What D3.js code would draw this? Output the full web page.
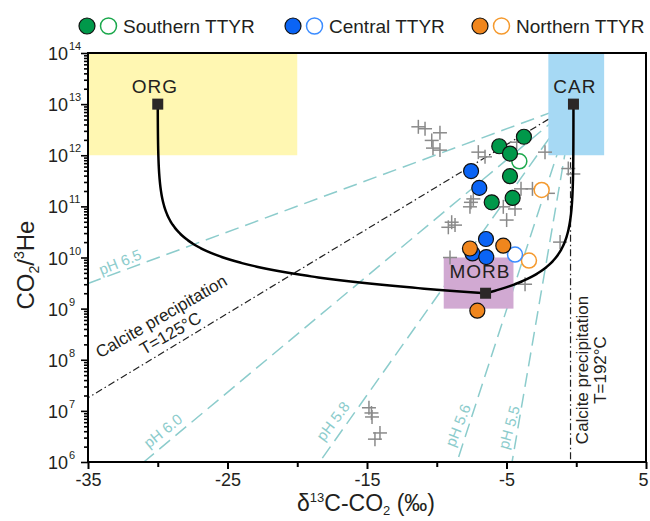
<!DOCTYPE html>
<html><head><meta charset="utf-8">
<script src="https://cdn.jsdelivr.net/npm/d3@7"></script>
<style>
body{margin:0;background:#fff}
svg{display:block}
text{font-family:"Liberation Sans",Arial,Helvetica,sans-serif;fill:#231f20}
</style>
</head><body>
<svg id="chart" width="650" height="521"></svg>
<script>
// ---------------- data ----------------
const xMajorTicks = [-35, -25, -15, -5, 5];
const xMinorTicks = [-30, -20, -10, 0];
const yTickExponents = [6, 7, 8, 9, 10, 11, 12, 13, 14];

const endMemberNames = ["ORG", "CAR", "MORB"];
const endMemberD13C = [-30, -0.2, -6.5];
const endMemberRatio = [1e13, 1e13, 2e9];

const boxNames = ["ORG", "CAR", "MORB"];
const boxD13C = [[-35, -20], [-2, 2], [-9.5, -4.5]];
const boxRatio = [[1e12, 1e14], [1e12, 1e14], [1e9, 1e10]];

const pHLabels = ["pH 6.5", "pH 6.0", "pH 5.8", "pH 5.6", "pH 5.5"];
const pHEndD13C = [-35, -31, -18.4, -8.55, -4.6];
const pHEndRatio = [3.1e9, 1e6, 1e6, 1e6, 1e6];

const calcite125End = [-35, 1.8e7];
const calcite192D13C = -0.41;

const southernFilled = [[-5.52, 1.5e12], [-3.75, 2.3e12], [-4.75, 1.08e12], [-4.75, 3.9e11], [-4.56, 1.46e11], [-6.06, 1.2e11]];
const southernOpen = [[-4.08, 7.6e11]];
const centralFilled = [[-7.54, 4.9e11], [-6.95, 2.3e11], [-6.47, 2.3e10], [-7.44, 1.2e10], [-6.45, 1.02e10]];
const centralOpen = [[-4.39, 1.14e10]];
const northernFilled = [[-7.62, 1.5e10], [-5.23, 1.7e10], [-7.09, 9.1e8]];
const northernOpen = [[-2.48, 2.1e11], [-3.39, 8.7e9]];

const otherSamples = [
  [-11.32, 3.6e12], [-10.84, 3.3e12], [-9.77, 2.75e12], [-10.36, 1.95e12], [-10.27, 1.38e12], [-9.77, 1.26e12],
  [-7.02, 1.15e12], [-6.54, 9.3e11], [-4.27, 1.8e12], [-2.24, 1.15e12], [-0.57, 5.5e11], [-0.21, 4.3e11],
  [-3.96, 2.2e11], [-3.14, 2.2e11], [-2.03, 1.8e11], [-7.38, 1.4e11], [-7.62, 9.8e10], [-7.55, 1.2e11],
  [-5.23, 9.8e10], [-4.39, 8.9e10], [-4.99, 5.4e10], [-8.93, 4.9e10], [-8.69, 4.3e10], [-9.17, 3.9e10],
  [-9.05, 1.0e10], [-1.16, 2.0e10], [-3.67, 3.0e9],
  [-14.86, 1.15e7], [-14.68, 9.1e6], [-14.64, 7.6e6], [-14.07, 3.7e6], [-14.43, 2.8e6]
];

const legendLabels = ["Southern TTYR", "Central TTYR", "Northern TTYR"];

// ---------------- styles ----------------
const C = {
  green: "#00984a", greenOpen: "#1ba84c",
  blue: "#0a64f5", blueOpen: "#3b8cff",
  orange: "#f0861d", orangeOpen: "#f59a2e",
  teal: "#8ccccc", cross: "#8a8a8a",
  boxFill: {ORG: "#fff7b2", CAR: "#a6d9f4", MORB: "#d1a9d2"}
};

// ---------------- scales ----------------
const svg = d3.select("#chart");
const L = 88, R = 646, T = 53, B = 462;
const x = d3.scaleLinear().domain([-35, 5]).range([L, R]);
const y = d3.scaleLog().domain([1e6, 1e14]).range([B, T]);

// pH dashed lines (radiating from CAR end member)
const car = [endMemberD13C[1], endMemberRatio[1]];
pHLabels.forEach((lab, i) => {
  svg.append("line")
    .attr("x1", x(car[0])).attr("y1", y(car[1]))
    .attr("x2", x(pHEndD13C[i])).attr("y2", y(pHEndRatio[i]))
    .attr("stroke", C.teal).attr("stroke-width", 1.5)
    .attr("stroke-dasharray", "14,7");
});
// calcite precipitation lines
svg.append("line")
  .attr("x1", x(car[0])).attr("y1", y(car[1]))
  .attr("x2", x(calcite125End[0])).attr("y2", y(calcite125End[1]))
  .attr("stroke", "#222").attr("stroke-width", 1.2)
  .attr("stroke-dasharray", "7,3,1.5,3");
svg.append("line")
  .attr("x1", x(calcite192D13C)).attr("y1", y(1e13))
  .attr("x2", x(calcite192D13C)).attr("y2", y(1e6))
  .attr("stroke", "#222").attr("stroke-width", 1.2)
  .attr("stroke-dasharray", "7,3,1.5,3");

// end-member boxes
boxNames.forEach((n, i) => {
  svg.append("rect")
    .attr("x", x(boxD13C[i][0])).attr("width", x(boxD13C[i][1]) - x(boxD13C[i][0]))
    .attr("y", y(boxRatio[i][1])).attr("height", y(boxRatio[i][0]) - y(boxRatio[i][1]))
    .attr("fill", C.boxFill[n]);
});

// pH labels (positions in data units)
const pHLabelPos = [[-32.7, 10 ** 9.91, -22], [-29.62, 10 ** 6.61, -38.5], [-17.44, 10 ** 6.8, -53], [-8.48, 10 ** 6.72, -68], [-4.82, 10 ** 6.68, -74]];
pHLabels.forEach((lab, i) => {
  const p = pHLabelPos[i];
  svg.append("text")
    .attr("transform", `translate(${x(p[0])},${y(p[1])}) rotate(${p[2]})`)
    .attr("text-anchor", "middle").attr("dy", "0.35em")
    .style("font-size", "15px").style("fill", C.teal)
    .text(lab);
});

// calcite labels
function rotLabel(ang, lines, size) {
  lines.forEach(l => {
    svg.append("text")
      .attr("transform", `translate(${x(l[0])},${y(l[1])}) rotate(${ang})`)
      .attr("text-anchor", "middle").attr("dy", "0.35em")
      .style("font-size", size + "px").text(l[2]);
  });
}
rotLabel(-30, [[-29.75, 10 ** 8.85, "Calcite precipitation"], [-29.1, 10 ** 8.52, "T=125°C"]], 17);
rotLabel(-90, [[0.45, 10 ** 7.8, "Calcite precipitation"], [1.68, 10 ** 7.8, "T=192°C"]], 17);

// other samples (crosses)
const crossG = svg.append("g").attr("stroke", C.cross).attr("stroke-width", 1.5);
otherSamples.forEach(d => {
  const cx = x(d[0]), cy = y(d[1]);
  crossG.append("line").attr("x1", cx - 7).attr("x2", cx + 7).attr("y1", cy).attr("y2", cy);
  crossG.append("line").attr("x1", cx).attr("x2", cx).attr("y1", cy - 7).attr("y2", cy + 7);
});

// mixing curves ORG-MORB and MORB-CAR
function mixCurve(a, b) {
  const fs = [0].concat(d3.range(-6, 0.00001, 0.01).map(t => Math.pow(10, t)));
  return fs.map(f => {
    const inv = (1 - f) / a[1] + f / b[1];
    return [(1 - f) * a[0] + f * b[0], 1 / inv];
  });
}
const org = [endMemberD13C[0], endMemberRatio[0]];
const morb = [endMemberD13C[2], endMemberRatio[2]];
const lineGen = d3.line().x(d => x(d[0])).y(d => y(d[1]));
svg.append("path").attr("d", lineGen(mixCurve(org, morb)))
  .attr("fill", "none").attr("stroke", "#000").attr("stroke-width", 2.5);
svg.append("path").attr("d", lineGen(mixCurve(car, morb)))
  .attr("fill", "none").attr("stroke", "#000").attr("stroke-width", 2.5);

// end-member squares and labels
endMemberNames.forEach((n, i) => {
  svg.append("rect")
    .attr("x", x(endMemberD13C[i]) - 5.5).attr("y", y(endMemberRatio[i]) - 5.5)
    .attr("width", 11).attr("height", 11).attr("fill", "#2b2727");
});
const emLabelPos = {ORG: [-30.2, 10 ** 13.22], CAR: [-0.1, 10 ** 13.22], MORB: [-6.9, 10 ** 9.6]};
endMemberNames.forEach(n => {
  svg.append("text")
    .attr("x", x(emLabelPos[n][0])).attr("y", y(emLabelPos[n][1]))
    .attr("text-anchor", "middle").style("font-size", "19px").style("letter-spacing", "1px")
    .text(n);
});

// sample circles
function circles(data, fill, stroke, sw) {
  data.forEach(d => {
    svg.append("circle").attr("cx", x(d[0])).attr("cy", y(d[1])).attr("r", 7.5)
      .attr("fill", fill).attr("stroke", stroke).attr("stroke-width", sw);
  });
}
circles(northernOpen, "#fff", C.orangeOpen, 1.5);
circles(centralOpen, "#fff", C.blueOpen, 1.5);
circles(southernOpen, "#fff", C.greenOpen, 1.5);
circles(southernFilled, C.green, "#111", 1.2);
circles(centralFilled, C.blue, "#111", 1.2);
circles(northernFilled, C.orange, "#111", 1.2);

// frame
svg.append("rect").attr("x", L).attr("y", T).attr("width", R - L).attr("height", B - T)
  .attr("fill", "none").attr("stroke", "#000").attr("stroke-width", 2);

// x axis ticks
const xAxisG = svg.append("g").attr("transform", `translate(0,${B})`);
xAxisG.call(d3.axisBottom(x).tickValues(xMajorTicks).tickSize(7).tickFormat(d => d));
const xMinorG = svg.append("g").attr("transform", `translate(0,${B})`);
xMinorG.call(d3.axisBottom(x).tickValues(xMinorTicks).tickSize(5).tickFormat(""));
[xAxisG, xMinorG].forEach(g => {
  g.select(".domain").remove();
  g.selectAll(".tick line").attr("stroke", "#000").attr("stroke-width", 2);
});
xAxisG.selectAll(".tick text").attr("y", 11).style("font-size", "18px")
  .style("font-family", "'Liberation Sans',Arial,sans-serif").attr("fill", "#231f20")
  .attr("dx", d => d === 5 ? -3 : 0);

// y axis ticks
const yMajor = yTickExponents.map(e => Math.pow(10, e));
const yMinor = [];
yTickExponents.slice(0, -1).forEach(e => { for (let k = 2; k <= 9; k++) yMinor.push(k * Math.pow(10, e)); });
const yMajG = svg.append("g").attr("transform", `translate(${L},0)`)
  .call(d3.axisLeft(y).tickValues(yMajor).tickSize(7).tickFormat(""));
const yMinG = svg.append("g").attr("transform", `translate(${L},0)`)
  .call(d3.axisLeft(y).tickValues(yMinor).tickSize(4).tickFormat(""));
[yMajG, yMinG].forEach(g => {
  g.select(".domain").remove();
  g.selectAll(".tick line").attr("stroke", "#000").attr("stroke-width", 1.6);
});
yTickExponents.forEach(e => {
  const ty = y(Math.pow(10, e));
  svg.append("text").attr("x", 68).attr("y", ty + 7).attr("text-anchor", "end")
    .style("font-size", "18px").text("10");
  svg.append("text").attr("x", 69).attr("y", ty - 3).attr("text-anchor", "start")
    .style("font-size", "11px").text(e);
});

// axis titles
const xt = svg.append("text").attr("x", 366).attr("y", 511).attr("text-anchor", "middle").style("font-size", "23px");
xt.append("tspan").text("δ");
xt.append("tspan").attr("dy", -9).style("font-size", "13px").text("13");
xt.append("tspan").attr("dy", 9).text("C-CO");
xt.append("tspan").attr("dy", 4).style("font-size", "13px").text("2");
xt.append("tspan").attr("dy", -4).text(" (‰)");

const yt = svg.append("text").attr("transform", "translate(34,265) rotate(-90)")
  .attr("text-anchor", "middle").style("font-size", "24px");
yt.append("tspan").text("CO");
yt.append("tspan").attr("dy", 5).style("font-size", "14px").text("2");
yt.append("tspan").attr("dy", -5).text("/");
yt.append("tspan").attr("dy", -10).style("font-size", "14px").text("3");
yt.append("tspan").attr("dy", 10).text("He");

// legend
const legendFill = [C.green, C.blue, C.orange];
const legendOpen = [C.greenOpen, C.blueOpen, C.orangeOpen];
const legendX = [87, 293, 480];
legendLabels.forEach((lab, i) => {
  const lx = legendX[i];
  svg.append("circle").attr("cx", lx).attr("cy", 26).attr("r", 8)
    .attr("fill", legendFill[i]).attr("stroke", "#111").attr("stroke-width", 1.2);
  svg.append("circle").attr("cx", lx + 21.5).attr("cy", 26).attr("r", 8)
    .attr("fill", "#fff").attr("stroke", legendOpen[i]).attr("stroke-width", 1.5);
  svg.append("text").attr("x", lx + 36).attr("y", 33).style("font-size", "19px").text(lab);
});
</script>
</body></html>
